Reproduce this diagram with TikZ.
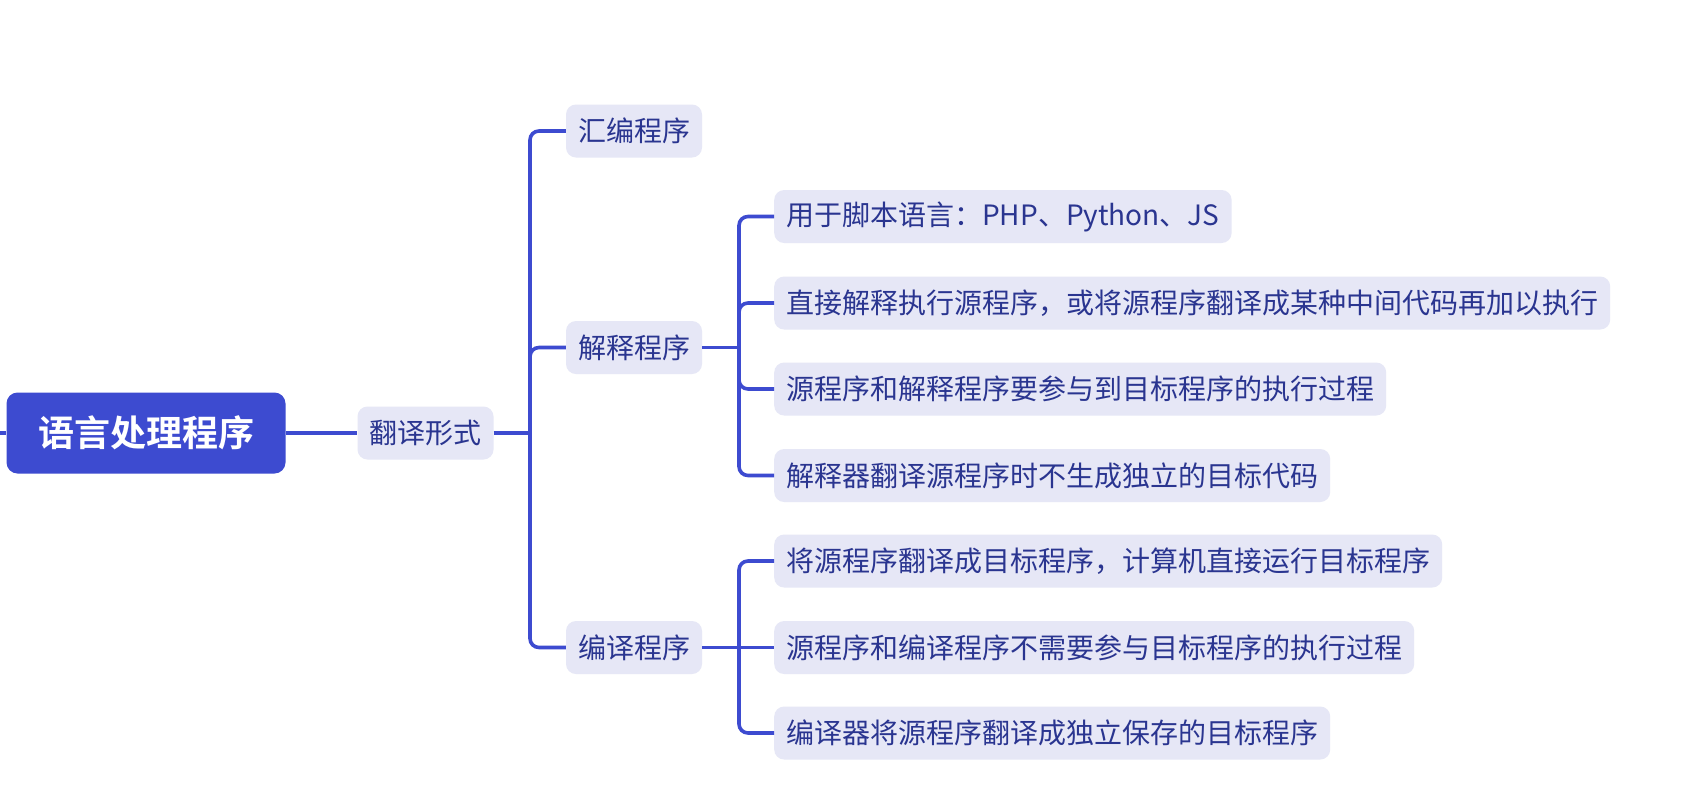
\documentclass[tikz,border=0pt]{standalone}
\usepackage{fontspec}
\setmainfont{Noto Sans CJK SC}
\newfontfamily\cjkbold{Noto Sans CJK SC Bold}
\definecolor{linec}{HTML}{3D4BD0}
\definecolor{rootc}{HTML}{3D4BD0}
\definecolor{boxc}{HTML}{E6E7F6}
\definecolor{txtc}{HTML}{2A3590}
\tikzset{
  conn/.style={draw=linec, line width=3.6pt, rounded corners=9pt},
  rootbox/.style={fill=rootc, rounded corners=11pt, text=white, font=\cjkbold\fontsize{36}{42}\selectfont,
    minimum width=279pt, minimum height=81pt, inner sep=0pt},
  subbox/.style={fill=boxc, rounded corners=10pt, text=txtc, font=\fontsize{28}{33}\selectfont,
    minimum height=53pt, inner xsep=12pt, inner ysep=0pt},
  leafbox/.style={subbox, anchor=west}
}
\begin{document}
\begin{tikzpicture}[x=1pt,y=-1pt]
\useasboundingbox[fill=white] (0,0) rectangle (1696,788);
\coordinate (stub) at (0,433);
\node[rootbox] (root) at (146,433) {语言处理程序};
\node[subbox, minimum width=135pt] (fy) at (425.5,433) {翻译形式};
\node[subbox, minimum width=136pt] (hb) at (634,131) {汇编程序};
\node[subbox, minimum width=136pt] (js) at (634,347.5) {解释程序};
\node[subbox, minimum width=136pt] (by) at (634,647.5) {编译程序};
\node[leafbox] (j1) at (774,216.5) {用于脚本语言：PHP、Python、JS};
\node[leafbox] (j2) at (774,303) {直接解释执行源程序，或将源程序翻译成某种中间代码再加以执行};
\node[leafbox] (j3) at (774,389) {源程序和解释程序要参与到目标程序的执行过程};
\node[leafbox] (j4) at (774,475.5) {解释器翻译源程序时不生成独立的目标代码};
\node[leafbox] (b1) at (774,561) {将源程序翻译成目标程序，计算机直接运行目标程序};
\node[leafbox] (b2) at (774,647.5) {源程序和编译程序不需要参与目标程序的执行过程};
\node[leafbox] (b3) at (774,733) {编译器将源程序翻译成独立保存的目标程序};
% connectors
\draw[conn] (stub) -- (root.west);
\draw[conn] (root.east) -- (fy.west);
\draw[conn] (fy.east) -- (530,433);
\draw[conn] (hb.west) -| (530,433) |- (by.west);
\draw[conn] (530,433) |- (js.west);
\draw[conn] (js.east) -- (739,347.5);
\draw[conn] (j1.west) -| (739,347.5) |- (j4.west);
\draw[conn] (739,347.5) |- (j2.west);
\draw[conn] (739,347.5) |- (j3.west);
\draw[conn] (by.east) -- (b2.west);
\draw[conn] (b1.west) -| (739,647.5) |- (b3.west);
\end{tikzpicture}
\end{document}
